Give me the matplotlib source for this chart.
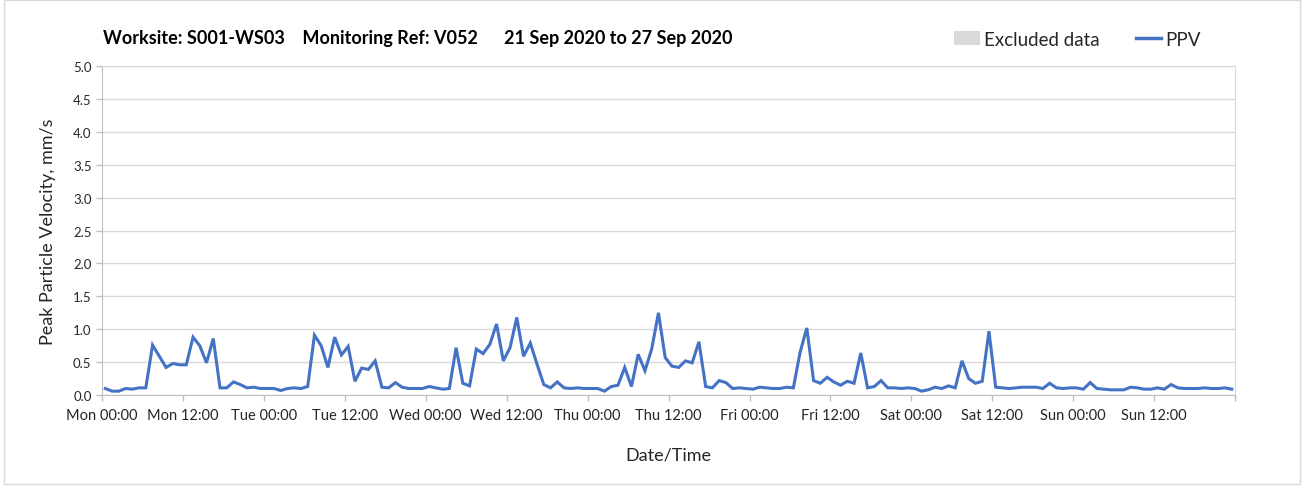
import numpy as np
import pandas as pd
import matplotlib
matplotlib.use("Agg")
import matplotlib.pyplot as plt
import matplotlib.dates as mdates
from matplotlib.patches import Patch, Rectangle
from matplotlib.lines import Line2D

# hourly PPV readings, Mon 21 Sep 2020 00:00 .. Sun 27 Sep 2020 23:00
start = "2020-09-21 00:00"
end = "2020-09-28 00:00"
ppv = [
    0.10, 0.06, 0.06, 0.10, 0.09, 0.11, 0.11, 0.76, 0.59, 0.42, 0.48, 0.46, 0.46, 0.88,
    0.75, 0.49, 0.86, 0.11, 0.11, 0.20, 0.16, 0.11, 0.12, 0.10, 0.10, 0.10, 0.07, 0.10,
    0.11, 0.10, 0.13, 0.91, 0.75, 0.42, 0.88, 0.61, 0.74, 0.21, 0.41, 0.39, 0.52, 0.12,
    0.11, 0.19, 0.12, 0.10, 0.10, 0.10, 0.13, 0.11, 0.09, 0.10, 0.72, 0.18, 0.14, 0.70,
    0.63, 0.77, 1.08, 0.52, 0.72, 1.18, 0.59, 0.79, 0.47, 0.16, 0.11, 0.20, 0.11, 0.10,
    0.11, 0.10, 0.10, 0.10, 0.06, 0.13, 0.15, 0.42, 0.13, 0.62, 0.37, 0.70, 1.25, 0.57,
    0.44, 0.42, 0.52, 0.49, 0.81, 0.13, 0.11, 0.22, 0.19, 0.10, 0.11, 0.10, 0.09, 0.12,
    0.11, 0.10, 0.10, 0.12, 0.11, 0.65, 1.02, 0.22, 0.18, 0.27, 0.20, 0.15, 0.21, 0.18,
    0.64, 0.11, 0.13, 0.22, 0.11, 0.11, 0.10, 0.11, 0.10, 0.06, 0.08, 0.12, 0.10, 0.14,
    0.11, 0.52, 0.25, 0.18, 0.21, 0.97, 0.12, 0.11, 0.10, 0.11, 0.12, 0.12, 0.12, 0.10,
    0.18, 0.11, 0.10, 0.11, 0.11, 0.09, 0.19, 0.10, 0.09, 0.08, 0.08, 0.08, 0.12, 0.11,
    0.09, 0.09, 0.11, 0.09, 0.16, 0.11, 0.10, 0.10, 0.10, 0.11, 0.10, 0.10, 0.11, 0.09,
]
title = "Worksite: S001-WS03    Monitoring Ref: V052      21 Sep 2020 to 27 Sep 2020"

# each reading sits in the middle of its hour
times = pd.date_range(start, periods=len(ppv), freq="h") + pd.Timedelta(minutes=30)

plt.rcParams["font.family"] = ["Lato", "DejaVu Sans"]
blue = "#4472C4"
grid_c = "#d9d9d9"
axis_c = "#bfbfbf"
text_c = "#262626"

fig = plt.figure(figsize=(13.04, 4.89), dpi=100)
fig.patches.append(Rectangle((0.003, 0.008), 0.994, 0.99, transform=fig.transFigure,
                             fill=False, edgecolor="#d9d9d9", linewidth=1))
ax = fig.add_axes([0.0782, 0.190, 0.8690, 0.673])

ax.plot(times, ppv, color=blue, linewidth=2.2, solid_joinstyle="miter")

ax.set_xlim(pd.Timestamp(start), pd.Timestamp(end))
ax.set_ylim(0, 5.0)
ax.set_yticks(np.arange(0, 5.01, 0.5))
ax.yaxis.set_major_formatter(matplotlib.ticker.FormatStrFormatter("%.1f"))

end_num = mdates.date2num(pd.Timestamp(end))
datefmt = mdates.DateFormatter("%a %H:%M")


def tick_label(x, pos=None):
    # no label on the closing tick of the week
    if abs(x - end_num) < 1e-6:
        return ""
    return datefmt(x, pos)


ax.xaxis.set_major_locator(mdates.HourLocator(byhour=[0, 12]))
ax.xaxis.set_major_formatter(matplotlib.ticker.FuncFormatter(tick_label))
ax.xaxis.set_minor_locator(mdates.DayLocator())

ax.grid(True, axis="y", color=grid_c, linewidth=1)
ax.grid(True, axis="x", which="minor", color=grid_c, linewidth=1)
ax.set_axisbelow(True)

for side in ("top", "right"):
    ax.spines[side].set_color(grid_c)
for side in ("left", "bottom"):
    ax.spines[side].set_color(axis_c)

ax.tick_params(axis="both", which="major", colors=axis_c, labelcolor=text_c,
               labelsize=9.5, length=4, width=1)
ax.tick_params(axis="x", which="major", labelsize=10.5, pad=5)
ax.tick_params(axis="x", which="minor", length=0)

ax.set_ylabel("Peak Particle Velocity, mm/s", fontsize=13, color=text_c, labelpad=12)
ax.set_xlabel("Date/Time", fontsize=13, color=text_c, labelpad=18)

fig.text(0.079, 0.922, title, fontsize=13.0, fontweight="bold", color="black",
         ha="left", va="center")

handles = [Patch(facecolor="#d9d9d9", edgecolor="none"),
           Line2D([], [], color=blue, linewidth=2.5)]
fig.legend(handles, ["Excluded data", "PPV"], loc="center right",
           bbox_to_anchor=(0.934, 0.918), ncol=2, frameon=False, fontsize=13.5,
           handlelength=1.35, handleheight=0.7, handletextpad=0.25, columnspacing=1.9,
           labelcolor=text_c)

fig.savefig("out.png", dpi=100)
